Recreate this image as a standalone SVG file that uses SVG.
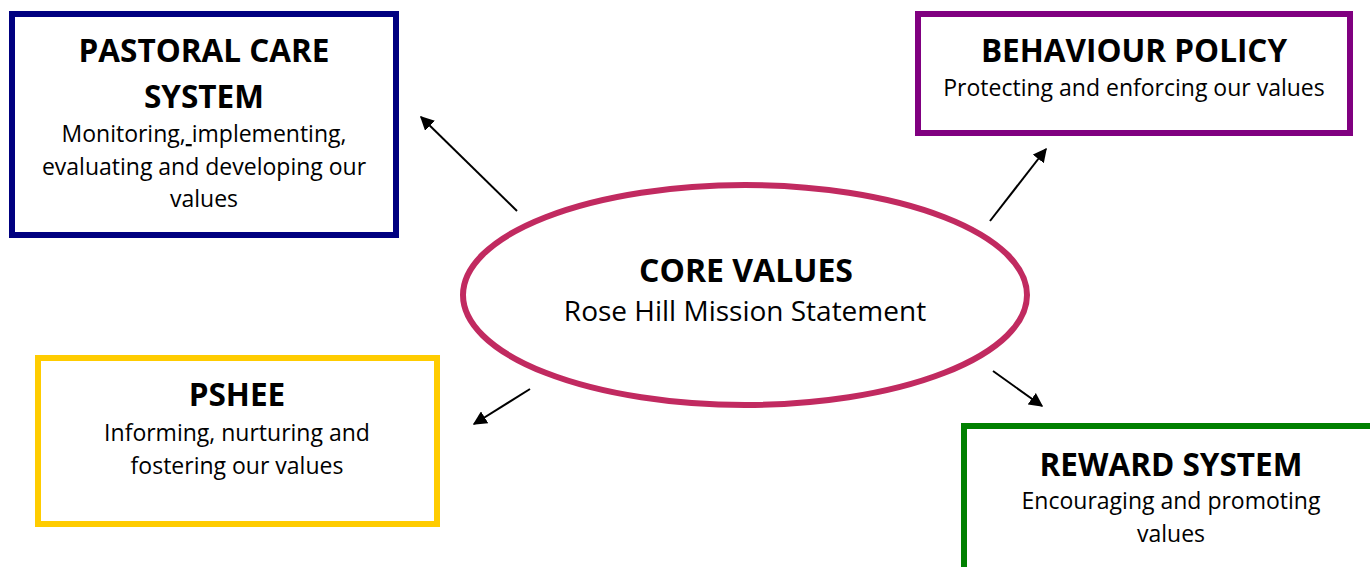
<svg xmlns="http://www.w3.org/2000/svg" width="1370" height="567" viewBox="0 0 1370 567">
<defs>
<style>
.box{fill:#fff;stroke-width:6}
.t{font-family:"Open Sans","Liberation Sans",sans-serif;text-anchor:middle;fill:#000}
.h{font-weight:bold;font-size:31.5px}
.b{font-size:23px}
.c{stroke:#000;stroke-width:2;fill:none;marker-end:url(#ah)}
</style>
<marker id="ah" viewBox="0 0 10 10" refX="9" refY="5" markerWidth="7" markerHeight="7" markerUnits="strokeWidth" orient="auto">
<path d="M0,0 L10,5 L0,10 z" fill="#000"/>
</marker>
</defs>
<rect width="1370" height="567" fill="#fff"/>
<g id="connectors">
<line class="c" x1="517" y1="211" x2="421" y2="117"/>
<line class="c" x1="990" y1="221" x2="1046" y2="149"/>
<line class="c" x1="530" y1="389" x2="474" y2="424"/>
<line class="c" x1="993" y1="371" x2="1042" y2="406"/>
</g>
<g id="core">
<ellipse cx="745" cy="295" rx="282" ry="110" fill="#fff" stroke="#C12A60" stroke-width="6"/>
<text class="t h" x="746" y="282" style="font-size:32px">CORE VALUES</text>
<text class="t" x="745" y="321" style="font-size:28px">Rose Hill Mission Statement</text>
</g>
<g id="pastoral">
<rect class="box" x="12" y="14" width="384" height="221" stroke="#000080"/>
<text class="t h" x="204" y="62">PASTORAL CARE</text>
<text class="t h" x="204" y="108">SYSTEM</text>
<text class="t b" x="204" y="142">Monitoring,<tspan text-decoration="underline"> </tspan>implementing,</text>
<text class="t b" x="204" y="175">evaluating and developing our</text>
<text class="t b" x="204" y="207">values</text>
</g>
<g id="behaviour">
<rect class="box" x="918" y="14" width="432" height="119" stroke="#800080"/>
<text class="t h" x="1134" y="62">BEHAVIOUR POLICY</text>
<text class="t b" x="1134" y="96">Protecting and enforcing our values</text>
</g>
<g id="pshee">
<rect class="box" x="38" y="358" width="399" height="166" stroke="#FFCC00"/>
<text class="t h" x="237" y="406">PSHEE</text>
<text class="t b" x="237" y="441">Informing, nurturing and</text>
<text class="t b" x="237" y="474">fostering our values</text>
</g>
<g id="reward">
<rect class="box" x="964" y="426" width="440" height="200" stroke="#008000"/>
<text class="t h" x="1171" y="476">REWARD SYSTEM</text>
<text class="t b" x="1171" y="509">Encouraging and promoting</text>
<text class="t b" x="1171" y="542">values</text>
</g>
</svg>
